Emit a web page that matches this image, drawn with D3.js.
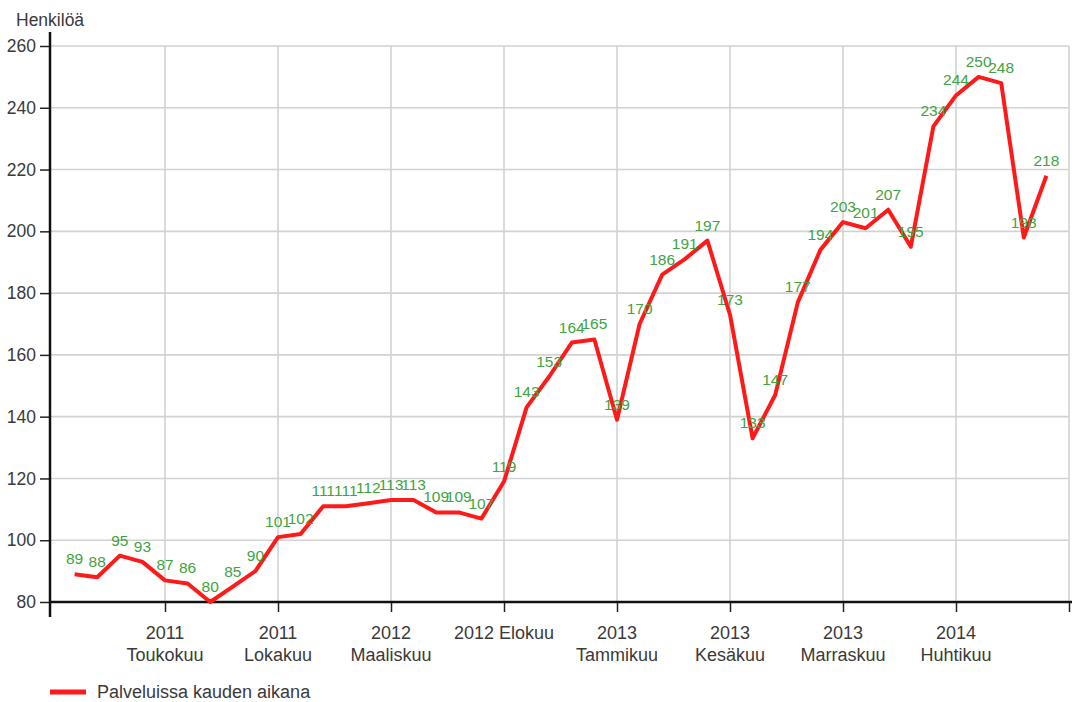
<!DOCTYPE html>
<html><head><meta charset="utf-8">
<script src="https://cdn.jsdelivr.net/npm/d3@7"></script>
<style>
body{margin:0;background:#fff;}
svg text{font-family:"Liberation Sans",Arial,sans-serif;}
</style></head>
<body><svg id="c" width="1075" height="702"></svg>
<script>
const months = ["2011-01","2011-02","2011-03","2011-04","2011-05","2011-06","2011-07","2011-08","2011-09","2011-10","2011-11","2011-12",
"2012-01","2012-02","2012-03","2012-04","2012-05","2012-06","2012-07","2012-08","2012-09","2012-10","2012-11","2012-12",
"2013-01","2013-02","2013-03","2013-04","2013-05","2013-06","2013-07","2013-08","2013-09","2013-10","2013-11","2013-12",
"2014-01","2014-02","2014-03","2014-04","2014-05","2014-06","2014-07","2014-08"];
const values = [89,88,95,93,87,86,80,85,90,101,102,111,111,112,113,113,109,109,107,119,143,153,164,165,
139,170,186,191,197,173,133,147,177,194,203,201,207,195,234,244,250,248,198,218];
const tickIndex = [4,9,14,19,24,29,34,39];
const tickLabels = [["2011","Toukokuu"],["2011","Lokakuu"],["2012","Maaliskuu"],["2012 Elokuu"],["2013","Tammikuu"],["2013","Kesäkuu"],["2013","Marraskuu"],["2014","Huhtikuu"]];
const yTicks = [80,100,120,140,160,180,200,220,240,260];
const seriesName = "Palveluissa kauden aikana";
const yTitle = "Henkilöä";

const svg = d3.select("#c");
const x = d3.scaleLinear().domain([-1, 44]).range([52, 1069]);
const y = d3.scaleLinear().domain([80, 260]).range([602, 46]);

// grid
const grid = svg.append("g").attr("stroke","#d2d2d2").attr("stroke-width",1.6);
yTicks.forEach(v=>grid.append("line").attr("x1",50).attr("x2",1069).attr("y1",y(v)).attr("y2",y(v)));
tickIndex.concat([44]).forEach(i=>grid.append("line").attr("x1",x(i)).attr("x2",x(i)).attr("y1",y(260)).attr("y2",y(80)));

// y axis
const yAxis = d3.axisLeft(y).tickValues(yTicks).tickSize(10).tickPadding(4);
const ya = svg.append("g").attr("transform","translate(50,0)").call(yAxis);
ya.select(".domain").remove();
ya.selectAll(".tick line").attr("stroke","#222").attr("stroke-width",1.5);
ya.selectAll(".tick text").attr("font-size",17.5).attr("fill","#3a3a3a").style("font-family","Liberation Sans, Arial, sans-serif");
svg.append("line").attr("x1",50).attr("x2",50).attr("y1",32).attr("y2",617).attr("stroke","#111").attr("stroke-width",2.5);

// x axis
const xAxis = d3.axisBottom(x).tickValues(tickIndex.concat([44])).tickSize(10).tickFormat("");
const xa = svg.append("g").attr("transform","translate(0,602)").call(xAxis);
xa.select(".domain").remove();
xa.selectAll(".tick line").attr("stroke","#222").attr("stroke-width",1.5);
svg.append("line").attr("x1",50).attr("x2",1072).attr("y1",602).attr("y2",602).attr("stroke","#111").attr("stroke-width",2.5);

tickIndex.forEach((i,k)=>{
  const lines = tickLabels[k];
  const t = svg.append("text").attr("x",x(i)).attr("y",639).attr("text-anchor","middle")
    .attr("font-size",18).attr("fill","#3a3a3a");
  lines.forEach((s,j)=>t.append("tspan").attr("x",x(i)).attr("dy", j===0?0:22).text(s));
});

// title
svg.append("text").attr("x",16).attr("y",26).attr("font-size",17.5).attr("fill","#3a3a3a").text(yTitle);

// line
const line = d3.line().x((d,i)=>x(i)).y(d=>y(d));
svg.append("path").datum(values).attr("d",line).attr("fill","none").attr("stroke","#ff1a1a").attr("stroke-width",4).attr("stroke-linejoin","round");

// data labels
svg.append("g").selectAll("text").data(values).join("text")
  .attr("x",(d,i)=>x(i)).attr("y",d=>y(d)-10).attr("text-anchor","middle")
  .attr("font-size",15.5).attr("fill","#3fa33f").text(d=>d);

// legend
svg.append("line").attr("x1",50).attr("x2",86).attr("y1",692).attr("y2",692).attr("stroke","#ff1a1a").attr("stroke-width",5);
svg.append("text").attr("x",97).attr("y",698).attr("font-size",18).attr("fill","#3a3a3a").text(seriesName);
</script></body></html>
